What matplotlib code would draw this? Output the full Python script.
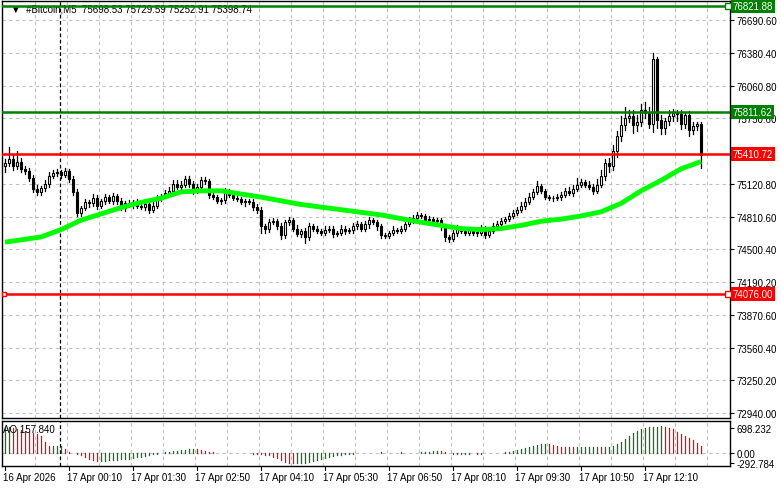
import matplotlib
matplotlib.use("Agg")
import matplotlib.pyplot as plt
from matplotlib.patches import Rectangle
import numpy as np

plt.rcParams['font.family'] = ['Liberation Sans', 'DejaVu Sans']

closes = [75330,75360,75300,75340,75270,75250,75180,75080,75050,75090,
          75130,75200,75230,75240,75210,75250,75170,75050,74850,74900,
          74950,74940,74990,74920,74960,75000,74960,75010,74960,74900,
          74940,74930,74950,74920,74910,74930,74880,74920,74990,75010,
          75040,75060,75130,75100,75120,75170,75130,75060,75100,75160,
          75150,75020,75000,74960,74970,75060,75020,74990,74980,74950,
          74960,74950,74910,74880,74720,74700,74760,74770,74720,74640,
          74760,74780,74700,74650,74680,74620,74720,74700,74680,74660,
          74690,74700,74650,74660,74700,74680,74690,74720,74740,74700,
          74740,74780,74760,74720,74640,74630,74660,74690,74680,74700,
          74740,74780,74800,74830,74820,74780,74790,74770,74780,74720,
          74620,74600,74660,74700,74680,74660,74690,74660,74660,74700,
          74640,74680,74720,74740,74770,74790,74820,74850,74880,74920,
          74950,75000,75050,75110,75060,75000,74990,74990,75000,75020,
          75060,75040,75080,75120,75140,75120,75100,75060,75120,75200,
          75330,75300,75440,75580,75690,75760,75770,75690,75720,75830,
          75800,75700,76320,75740,75660,75730,75770,75800,75790,75700,
          75780,75640,75680,75700,75400]
first_open = 75300
up_wick = [30,120,40,100,30,25,30,30,40,20, 30,40,30,30,20,30,20,30,30,20,
           30,20,40,30,20,30,20,30,20,30, 20,30,20,30,20,20,30,40,30,20,
           30,40,30,30,30,30,30,20,30,30, 30,20,30,20,20,30,20,20,30,20,
           20,20,30,20,30,20,30,30,20,30, 20,30,20,30,20,30,30,20,20,20,
           30,20,20,20,30,20,20,30,30,20, 30,30,20,20,20,20,20,30,20,20,
           20,30,30,30,20,20,30,20,20,20, 20,20,30,30,20,20,20,20,20,30,
           20,30,30,30,30,20,30,30,30,30, 40,40,30,40,20,20,20,20,30,30,
           30,40,40,60,30,20,30,30,50,60, 30,40,60,50,80,100,60,60,60,60,
           80,60,60,20,40,30,60,40,30,40, 30,40,40,20,20]
dn_wick = [60,30,40,30,30,30,30,30,30,30, 30,30,20,30,30,20,30,30,30,30,
           20,30,20,30,20,30,20,30,30,20, 30,20,30,20,20,30,30,20,20,30,
           20,30,20,20,30,20,30,30,20,30, 20,30,20,20,30,30,20,20,20,20,
           30,20,30,30,60,40,30,20,20,40, 30,30,20,20,30,60,30,20,20,20,
           20,20,30,20,20,30,20,30,20,20, 20,30,20,30,30,20,20,20,20,20,
           20,20,30,30,20,20,20,20,30,30, 40,30,20,30,20,20,20,20,30,20,
           30,20,20,20,20,20,20,20,20,20, 30,20,20,20,20,20,20,30,20,30,
           20,20,30,20,20,20,20,30,20,20, 40,60,40,60,40,50,40,80,60,40,
           40,40,80,80,60,60,40,40,60,50, 40,60,40,40,120]
ma_x = [0,9,14,19,24,29,34,39,44,49,54,59,64,74,84,94,104,109,114,119,124,129,
        134,139,144,149,154,159,164,169,174]
ma_vals = [74570,74620,74690,74780,74840,74900,74950,74990,75050,75060,75060,
           75030,75000,74930,74880,74830,74760,74730,74700,74690,74700,74730,
           74770,74790,74820,74860,74940,75060,75160,75270,75340]
ao = [700,720,700,680,650,620,590,560,520,480,
      300,200,200,200,200,
      120,40,0,-20,-60,
      -120,-180,-210,-220,-220,
      -215,-210,-200,-190,-180,-170,-160,-140,-120,-100,-80,-60,-40,-20,0,
      20,40,50,60,70,90,100,110,100,80,50,
      30,20,10,10,5,5,
      0,0,0,0,0,
      -20,-30,-40,-50,-60,
      -100,-150,-200,-240,-270,-290,-290,-290,-280,-260,-230,-200,-170,-140,-110,
      -90,-70,-60,-40,-30,-20,-10,-5,0,5,
      10,10,15,10,10,5,10,15,10,10,5,5,
      20,30,40,50,60,55,40,
      -10,-20,-30,-20,-20,-15,-10,-20,-15,-10,-10,-5,0,10,20,30,
      50,70,100,130,160,200,230,250,250,240,
      220,200,180,170,170,160,160,170,170,180,180,180,170,170,180,200,250,
      320,400,480,560,620,660,700,720,730,740,750,
      740,700,660,600,540,480,420,360,280,200]
levels_green = [76821.88, 75811.62]
levels_red = [75410.72, 74076.00]
yticks = [76690.60,76380.40,76060.80,75750.60,75120.80,74810.60,74500.40,
          74190.20,73870.60,73560.40,73250.20,72940.00]
xlabels = ["16 Apr 2026","17 Apr 00:10","17 Apr 01:30","17 Apr 02:50","17 Apr 04:10",
           "17 Apr 05:30","17 Apr 06:50","17 Apr 08:10","17 Apr 09:30","17 Apr 10:50",
           "17 Apr 12:10"]
title = "#Bitcoin,M5  75698.53 75729.59 75252.91 75398.74"

W, H = 781, 489
fig = plt.figure(figsize=(W/100, H/100), dpi=100)
fig.patch.set_facecolor("white")
x0, x1 = (2-5)/4, (730-5)/4
ax = fig.add_axes([2/W, 1-419/H, 728/W, 417/H])
ax2 = fig.add_axes([2/W, 1-467/H, 728/W, 45/H])
fs = 7.0
for a in (ax, ax2):
    a.set_xlim(x0, x1)
    a.set_facecolor("white")
    for s in a.spines.values():
        s.set_color("black"); s.set_linewidth(1)
    a.tick_params(length=3, labelsize=fs, direction="out", pad=2)
    a.yaxis.tick_right()
    gx = np.arange(x0 + (35-2)/4, x1, 8)
    for g in gx:
        a.axvline(g, color="#c0c0c0", ls=(0, (3, 3)), lw=0.8, zorder=0)
    a.set_xticks([])

ax.set_ylim(72892, 76872)
ax.set_yticks(yticks)
ax.set_yticklabels([f"{v:.2f}" for v in yticks])
for v in yticks:
    ax.axhline(v, color="#c0c0c0", ls=(0, (3, 3)), lw=0.8, zorder=0)
ax.axvline((60-5)/4, color="black", ls=(0, (3, 2)), lw=0.9, zorder=1)
ax2.axvline((60-5)/4, color="black", ls=(0, (3, 2)), lw=0.9, zorder=1)

opens = [first_open] + closes[:-1]
bw = 2.6/4
for i, (o, c) in enumerate(zip(opens, closes)):
    hi = max(o, c) + up_wick[i]; lo = min(o, c) - dn_wick[i]
    ax.plot([i, i], [lo, hi], color="black", lw=0.9, zorder=3)
    fc = "white" if c >= o else "black"
    ax.add_patch(Rectangle((i-bw/2, min(o, c)), bw, max(abs(c-o), 4),
                           facecolor=fc, edgecolor="black", lw=0.8, zorder=4))
ax.plot(ma_x, ma_vals, color="#00ff00", lw=3.5, zorder=5, solid_capstyle="butt")

for v in levels_green:
    ax.axhline(v, color="#008000", lw=1.8, zorder=6)
    ax.text(1.004, v, f"{v:.2f}", transform=ax.get_yaxis_transform(), fontsize=fs,
            color="white", va="center", ha="left", clip_on=False,
            bbox=dict(boxstyle="square,pad=0.2", fc="#008000", ec="none"), zorder=7)
for v in levels_red:
    ax.axhline(v, color="#ff0000", lw=1.8, zorder=6)
    ax.text(1.004, v, f"{v:.2f}", transform=ax.get_yaxis_transform(), fontsize=fs,
            color="white", va="center", ha="left", clip_on=False,
            bbox=dict(boxstyle="square,pad=0.2", fc="#ff0000", ec="none"), zorder=7)
ax.plot([x1-0.6], [levels_green[0]], marker="s", mfc="white", mec="#008000", ms=4, zorder=8)
ax.plot([x1-0.6], [levels_red[1]], marker="s", mfc="white", mec="#ff0000", ms=4, zorder=8)
ax.plot([x0+0.6], [levels_red[1]], marker="s", mfc="white", mec="#ff0000", ms=3, zorder=8)
ax.text(0.012, 0.993, "▼  " + title, transform=ax.transAxes, fontsize=fs, va="top", ha="left")

ax2.set_ylim(-364, 894)
ax2.set_yticks([698.232, 0.0, -292.784])
ax2.set_yticklabels(["698.232", "0.00", "-292.784"])
ax2.axhline(0, color="#c0c0c0", ls=(0, (3, 3)), lw=0.8, zorder=0)
for i, v in enumerate(ao):
    col = "#008000" if i == 0 or v >= ao[i-1] else "#ff0000"
    ax2.plot([i, i], [0, v], color=col, lw=0.9, zorder=3)
ax2.text(0.002, 0.93, "AO 157.840", transform=ax2.transAxes, fontsize=fs, va="top", ha="left")

for k, lab in enumerate(xlabels):
    px = 3 + 64*k
    fig.text(px/W, 1-478/H, lab, fontsize=fs, ha="left", va="center")
    fig.add_artist(plt.Line2D([(px+2)/W, (px+2)/W], [1-467/H, 1-471/H], color="black", lw=0.8))

fig.savefig("out.png", dpi=100)
